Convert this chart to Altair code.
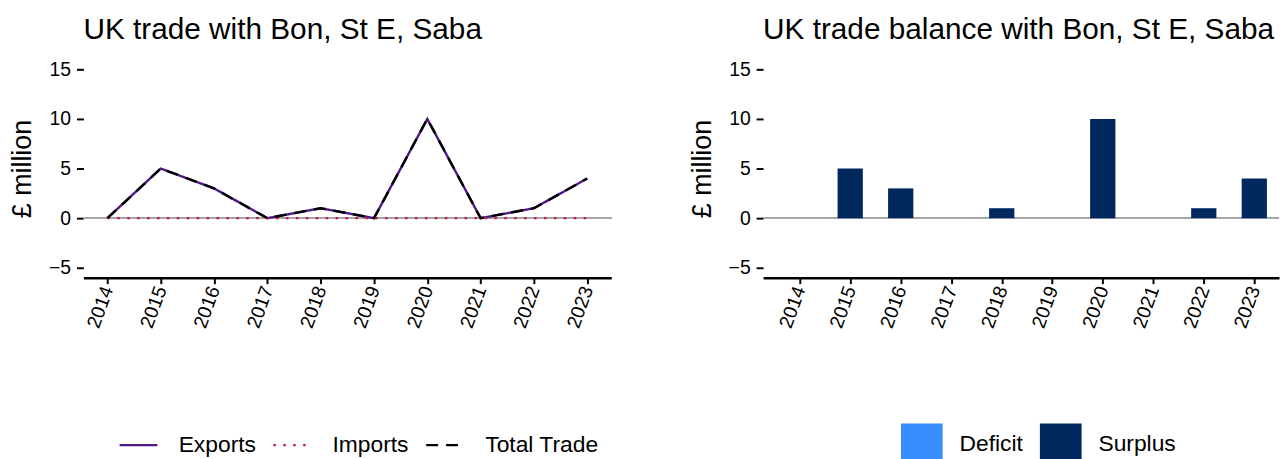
import altair as alt
import pandas as pd

years = [2014, 2015, 2016, 2017, 2018, 2019, 2020, 2021, 2022, 2023]
exports = [0, 5, 3, 0, 1, 0, 10, 0, 1, 4]
imports = [0, 0, 0, 0, 0, 0, 0, 0, 0, 0]
total_trade = [0, 5, 3, 0, 1, 0, 10, 0, 1, 4]
balance = [0, 5, 3, 0, 1, 0, 10, 0, 1, 4]
series_names = ["Exports", "Imports", "Total Trade"]
balance_names = ["Deficit", "Surplus"]
y_ticks = [-5, 0, 5, 10, 15]

FONT = "Liberation Sans"
PURPLE = "#4E1786"
RED = "#D2143A"
DEFICIT = "#3A8DFF"
SURPLUS = "#00285F"

lines_df = pd.concat([
    pd.DataFrame({"year": years, "value": vals, "series": name})
    for name, vals in zip(series_names, [exports, imports, total_trade])
], ignore_index=True)

bal_df = pd.DataFrame({"year": years, "value": balance})
bal_df["type"] = ["Surplus" if v >= 0 else "Deficit" for v in balance]

y_scale = alt.Scale(domain=[-6, 16], nice=False, zero=False)


def y_axis():
    return alt.Axis(values=y_ticks, title="£ million", grid=False, domain=False,
                    tickColor="black", tickSize=7, tickWidth=2,
                    labelFontSize=19.5, labelColor="black", labelFont=FONT, labelPadding=6,
                    titleFontSize=27, titleFontWeight="normal", titleColor="black",
                    titleFont=FONT, titlePadding=12)


def x_axis():
    return alt.Axis(values=years, format="d", title=None, grid=False,
                    domainColor="black", domainWidth=2.5,
                    tickColor="black", tickWidth=2, tickSize=6,
                    labelAngle=290, labelAlign="right", labelBaseline="middle",
                    labelFontSize=19.5, labelColor="black", labelFont=FONT, labelPadding=3)


W = 532
H = 220

zero_left = alt.Chart(lines_df).mark_rule(color="#A6A6A6", strokeWidth=1.5).encode(
    y=alt.datum(0, scale=y_scale)
)

leg_left = dict(title=None, orient="none", legendX=35, legendY=368, direction="horizontal",
                symbolType="stroke", symbolSize=1444, symbolStrokeWidth=2.5,
                labelFontSize=23, labelFont=FONT, labelColor="black",
                labelOffset=20, columnPadding=12, padding=0)

lines = alt.Chart(lines_df).mark_line(strokeWidth=2.4).encode(
    x=alt.X("year:Q", scale=alt.Scale(domain=[2013.55, 2023.45], nice=False, zero=False), axis=x_axis()),
    y=alt.Y("value:Q", scale=y_scale, axis=y_axis()),
    color=alt.Color("series:N", scale=alt.Scale(domain=series_names, range=[PURPLE, RED, "black"]),
                    legend=alt.Legend(**leg_left)),
    strokeDash=alt.StrokeDash("series:N", scale=alt.Scale(domain=series_names, range=[[1, 0], [2.5, 7.5], [12, 8]]),
                              legend=alt.Legend(**leg_left)),
)

left = alt.layer(zero_left, lines).properties(
    width=W, height=H,
    title=alt.Title("UK trade with Bon, St E, Saba", anchor="start", frame="group",
                    fontSize=30, font=FONT, fontWeight="normal", color="black",
                    baseline="alphabetic", offset=-9),
)

WR = 520
x_right_scale = alt.Scale(domain=[2013.275, 2013.275 + WR / W * 10.45], nice=False, zero=False)

zero_right = alt.Chart(bal_df).mark_rule(color="#A6A6A6", strokeWidth=1.5).encode(
    y=alt.datum(0, scale=y_scale)
)

bars = alt.Chart(bal_df).transform_calculate(
    x0="datum.year - 0.25", x1="datum.year + 0.25"
).mark_rect().encode(
    x=alt.X("x0:Q", scale=x_right_scale, axis=x_axis()),
    x2="x1:Q",
    y=alt.Y("value:Q", scale=y_scale, axis=y_axis()),
    y2=alt.datum(0),
    color=alt.Color("type:N", scale=alt.Scale(domain=balance_names, range=[DEFICIT, SURPLUS]),
                    legend=alt.Legend(title=None, orient="none", legendX=139, legendY=367,
                                      direction="horizontal", symbolType="square", symbolSize=1764,
                                      symbolStrokeWidth=0, symbolOpacity=1,
                                      labelFontSize=23, labelFont=FONT, labelColor="black",
                                      labelOffset=17, columnPadding=17, padding=0)),
)

right = alt.layer(zero_right, bars).properties(
    width=WR, height=H,
    title=alt.Title("UK trade balance with Bon, St E, Saba", anchor="start", frame="group",
                    fontSize=30, font=FONT, fontWeight="normal", color="black",
                    baseline="alphabetic", offset=-9),
)

chart = alt.hconcat(left, right, spacing=76).resolve_scale(
    color="independent", x="independent", y="independent", strokeDash="independent"
).properties(
    padding={"left": 0, "top": 4, "right": 0, "bottom": 0},
    background="white",
).configure_view(stroke=None)

chart.save("out.html", embed_options={"renderer": "svg", "actions": False})
